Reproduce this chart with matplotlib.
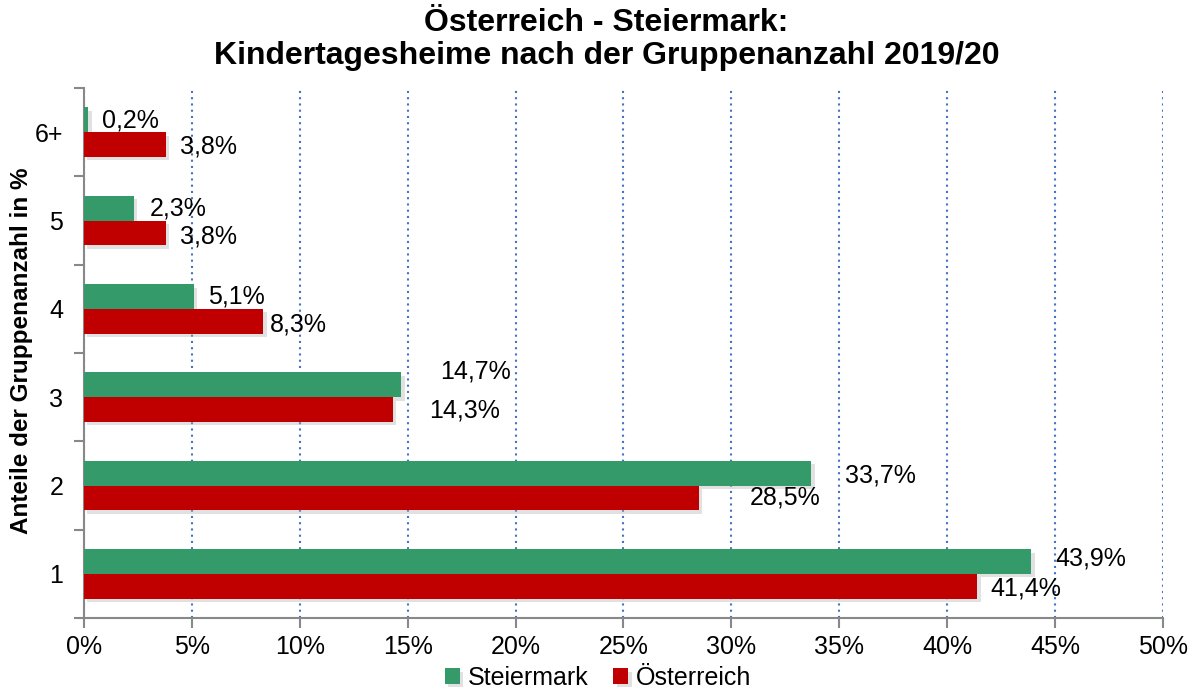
import matplotlib.pyplot as plt
import matplotlib.patheffects as pe
import numpy as np

plt.rcParams['font.family'] = ['Liberation Sans', 'DejaVu Sans']

kategorien = ['1', '2', '3', '4', '5', '6+']
steiermark = [43.9, 33.7, 14.7, 5.1, 2.3, 0.2]
oesterreich = [41.4, 28.5, 14.3, 8.3, 3.8, 3.8]
# label offsets (px) to the right of bar ends, as in the original
off_st = [24, 34, 39, 14, 16, 14]
off_oe = [13, 51, 37, 7, 14, 14]
dy_st = [3, -2, 13, 0, 0, -1]
dy_oe = [-2, 0, -1, -3, -4, -2]

gruen = '#359A6A'
rot = '#C00000'

fig = plt.figure(figsize=(11.96, 6.91), dpi=100)
ax = fig.add_axes([0.0702, 0.1056, 0.9022, 0.767])

y = np.arange(len(kategorien))
h = 0.28
shadow = [pe.SimplePatchShadow(offset=(2.5, -2.5), shadow_rgbFace='#aaaaaa', alpha=0.35), pe.Normal()]
b1 = ax.barh(y + h / 2, steiermark, height=h, color=gruen, label='Steiermark', zorder=3)
b2 = ax.barh(y - h / 2, oesterreich, height=h, color=rot, label='Österreich', zorder=3)
for b in list(b1) + list(b2):
    b.set_path_effects(shadow)

for i in range(len(kategorien)):
    ax.annotate(f'{steiermark[i]:.1f}%'.replace('.', ','), (steiermark[i], y[i] + h / 2),
                xytext=(off_st[i] * 0.72, dy_st[i] * 0.72), textcoords='offset points',
                va='center', ha='left', fontsize=18, zorder=5)
    ax.annotate(f'{oesterreich[i]:.1f}%'.replace('.', ','), (oesterreich[i], y[i] - h / 2),
                xytext=(off_oe[i] * 0.72, dy_oe[i] * 0.72), textcoords='offset points',
                va='center', ha='left', fontsize=18, zorder=5)

ax.set_xlim(0, 50)
ax.set_ylim(-0.5, 5.5)
ax.set_xticks(np.arange(0, 51, 5))
ax.set_xticklabels([f'{v}%' for v in range(0, 51, 5)], fontsize=18)
ax.set_yticks(np.arange(-0.5, 5.6, 1))
ax.set_yticklabels([])
ax.set_yticks(y, minor=True)
ax.set_yticklabels(kategorien, minor=True, fontsize=18)
ax.tick_params(axis='y', which='minor', length=0, pad=15)
ax.tick_params(axis='y', which='major', length=7, direction='out', color='#888888', width=1.5)
ax.tick_params(axis='x', length=7, direction='out', color='#888888', width=1.5, pad=5)

ax.grid(axis='x', color='#4472C4', linestyle=(0, (1, 2)), linewidth=1.5, zorder=0)
ax.set_axisbelow(True)
for s in ['top', 'right']:
    ax.spines[s].set_visible(False)
for s in ['left', 'bottom']:
    ax.spines[s].set_color('#888888')
    ax.spines[s].set_linewidth(1.5)

ax.set_ylabel('Anteile der Gruppenanzahl in %', fontsize=17.5, fontweight='bold')
ax.yaxis.set_label_coords(-0.047, 0.505)
fig.suptitle('Österreich - Steiermark:\nKindertagesheime nach der Gruppenanzahl 2019/20',
             fontsize=23, fontweight='bold', x=0.507, y=0.988, va='top', linespacing=1.12)

fig.legend(handles=[b1, b2], loc='center', bbox_to_anchor=(0.5, 0.019), ncol=2,
           frameon=False, fontsize=18, handlelength=0.6, handleheight=0.6,
           handletextpad=0.3, columnspacing=1.0, borderpad=0)

fig.savefig('out.png', dpi=100)
